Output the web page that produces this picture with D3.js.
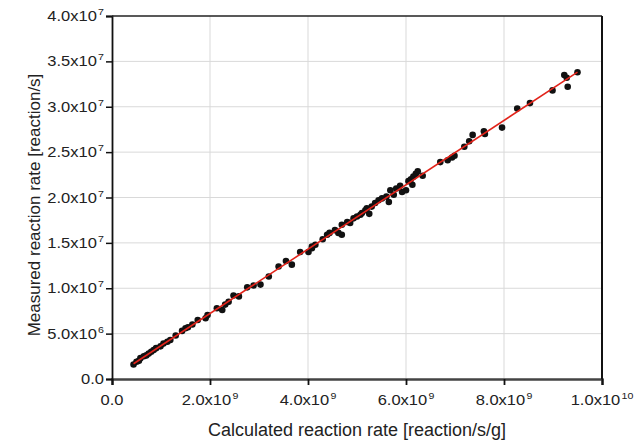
<!DOCTYPE html>
<html>
<head>
<meta charset="utf-8">
<script src="https://cdn.jsdelivr.net/npm/d3@7"></script>
<style>
  body { margin: 0; background: #fff; }
  svg { font-family: "Liberation Sans", Arial, sans-serif; }
  .grid line { stroke: #d9d9d9; stroke-width: 1; }
  .lbl { fill: #222; }
  .axis-title { fill: #222; }
</style>
</head>
<body>
<div id="chart"></div>
<script>
// Calculated rate (x 1e9 reaction/s/g) and measured rate (x 1e6 reaction/s)
const calcRate = [
  0.44, 0.50, 0.55, 0.58, 0.65, 0.70, 0.75, 0.80, 0.85, 0.90, 0.99, 1.05, 1.13, 1.19,
  1.30, 1.43, 1.50, 1.55, 1.64, 1.75, 1.91, 1.95, 2.14, 2.25, 2.31, 2.38, 2.48, 2.59,
  2.76, 2.89, 3.03, 3.20, 3.40, 3.55, 3.67, 3.84, 4.01, 4.08, 4.08, 4.15, 4.30, 4.39,
  4.44, 4.55, 4.62, 4.69, 4.69, 4.80, 4.86, 4.93, 5.00, 5.07, 5.10, 5.17, 5.20, 5.25,
  5.30, 5.37, 5.44, 5.51, 5.60, 5.65, 5.68, 5.75, 5.80, 5.88, 5.92, 6.00, 6.05, 6.10,
  6.13, 6.15, 6.20, 6.24, 6.34, 6.70, 6.85, 6.94, 6.99, 7.19, 7.29, 7.36, 7.59, 7.61,
  7.96, 8.27, 8.53, 8.99, 9.23, 9.28, 9.30, 9.50
];
const measRate = [
  1.6, 1.9, 2.0, 2.3, 2.5, 2.6, 2.8, 3.0, 3.2, 3.4, 3.6, 3.9, 4.1, 4.3,
  4.8, 5.3, 5.6, 5.7, 6.0, 6.5, 6.7, 7.05, 7.8, 7.6, 8.2, 8.5, 9.2, 9.1,
  10.1, 10.3, 10.4, 11.3, 12.4, 13.0, 12.6, 14.0, 14.0, 14.4, 14.6, 14.8, 15.4, 15.9,
  16.1, 16.4, 16.1, 17.0, 15.9, 17.3, 17.2, 17.7, 17.9, 18.1, 18.3, 18.6, 18.8, 18.2,
  19.0, 19.4, 19.7, 19.9, 20.1, 19.5, 20.8, 20.3, 21.0, 21.3, 20.6, 20.8, 21.8, 22.0,
  21.4, 22.3, 22.6, 22.9, 22.4, 23.9, 24.1, 24.4, 24.6, 25.6, 26.2, 26.9, 27.3, 27.0,
  27.7, 29.8, 30.4, 31.8, 33.5, 33.2, 32.2, 33.8
];
const xTicks = [0, 2e9, 4e9, 6e9, 8e9, 1e10];
const yTicks = [0, 5e6, 1e7, 1.5e7, 2e7, 2.5e7, 3e7, 3.5e7, 4e7];

const points = calcRate.map((c, i) => ({ x: c * 1e9, y: measRate[i] * 1e6 }));

const width = 641, height = 442;
const margin = { top: 16, right: 39, bottom: 63, left: 112 };
const innerWidth = width - margin.left - margin.right;
const innerHeight = height - margin.top - margin.bottom;
const labelSize = 14, supSize = 9, stretch = 1.18;

const xScale = d3.scaleLinear().domain([0, 1e10]).range([0, innerWidth]);
const yScale = d3.scaleLinear().domain([0, 4e7]).range([innerHeight, 0]);

const svg = d3.select("#chart").append("svg")
  .attr("width", width)
  .attr("height", height);

const g = svg.append("g")
  .attr("transform", `translate(${margin.left},${margin.top})`);

// GRID
g.append("g").attr("class", "grid")
  .selectAll("line.v")
  .data(xTicks.slice(1, -1))
  .join("line")
    .attr("x1", d => xScale(d)).attr("x2", d => xScale(d))
    .attr("y1", 0).attr("y2", innerHeight);

g.append("g").attr("class", "grid")
  .selectAll("line.h")
  .data(yTicks.slice(1, -1))
  .join("line")
    .attr("x1", 0).attr("x2", innerWidth)
    .attr("y1", d => yScale(d)).attr("y2", d => yScale(d));

// AXES (ticks only, labels drawn separately for the superscripts)
const xAxis = g.append("g")
  .attr("transform", `translate(0,${innerHeight})`)
  .call(d3.axisBottom(xScale).tickValues(xTicks).tickSize(6).tickFormat(""));
xAxis.select(".domain").attr("stroke", "#444").attr("stroke-width", 2.5);
xAxis.selectAll(".tick line").attr("stroke", "#111").attr("stroke-width", 1.8);

const yAxis = g.append("g")
  .call(d3.axisLeft(yScale).tickValues(yTicks).tickSize(6).tickFormat(""));
yAxis.select(".domain").attr("stroke", "#111").attr("stroke-width", 1.8);
yAxis.selectAll(".tick line").attr("stroke", "#111").attr("stroke-width", 1.5);

// "2.0x10" + small exponent, as two text elements in a slightly widened group
function splitLabel(d) {
  if (d === 0) return { base: "0.0", exp: "" };
  const exp = Math.floor(Math.log10(d));
  return { base: (d / Math.pow(10, exp)).toFixed(1) + "x10", exp: String(exp) };
}

function drawLabel(parent, d, x, y, anchor) {
  const p = splitLabel(d);
  const lg = parent.append("g");
  const base = lg.append("text").attr("class", "lbl")
    .attr("font-size", labelSize).attr("y", 0).text(p.base);
  const wb = base.node().getComputedTextLength();
  let ws = 0;
  if (p.exp) {
    const sup = lg.append("text").attr("class", "lbl")
      .attr("font-size", supSize).attr("x", wb + 1).attr("y", -6).text(p.exp);
    ws = sup.node().getComputedTextLength() + 1;
  }
  const total = (wb + ws) * stretch;
  const x0 = anchor === "end" ? x - total : x - total / 2;
  lg.attr("transform", `translate(${x0},${y}) scale(${stretch},1)`);
}

const xLabels = g.append("g");
xTicks.forEach(d => drawLabel(xLabels, d, xScale(d), innerHeight + 26, "middle"));

const yLabels = g.append("g");
yTicks.forEach(d => drawLabel(yLabels, d, -8, yScale(d) + 5, "end"));

// top and right frame
g.append("line")
  .attr("x1", 0).attr("x2", innerWidth).attr("y1", 0).attr("y2", 0)
  .attr("stroke", "#222").attr("stroke-width", 1.5);
g.append("line")
  .attr("x1", innerWidth).attr("x2", innerWidth).attr("y1", 0).attr("y2", innerHeight)
  .attr("stroke", "#111").attr("stroke-width", 2);

// POINTS
g.selectAll("circle.pt")
  .data(points)
  .join("circle")
    .attr("class", "pt")
    .attr("cx", d => xScale(d.x))
    .attr("cy", d => yScale(d.y))
    .attr("r", 3.3)
    .attr("fill", "#111");

// Linear fit through the data
const mx = d3.mean(points, d => d.x), my = d3.mean(points, d => d.y);
const slope = d3.sum(points, d => (d.x - mx) * (d.y - my)) / d3.sum(points, d => (d.x - mx) ** 2);
const intercept = my - slope * mx;
const xExt = d3.extent(points, d => d.x);
g.append("path")
  .datum(xExt.map(x => ({ x, y: intercept + slope * x })))
  .attr("fill", "none")
  .attr("stroke", "#e2231a")
  .attr("stroke-width", 1.6)
  .attr("d", d3.line().x(d => xScale(d.x)).y(d => yScale(d.y)));

// TITLES
svg.append("text")
  .attr("class", "axis-title")
  .attr("x", 357)
  .attr("y", 436)
  .attr("text-anchor", "middle")
  .style("font-size", "18px")
  .text("Calculated reaction rate [reaction/s/g]");

svg.append("text")
  .attr("class", "axis-title")
  .attr("transform", `translate(40,205) rotate(-90)`)
  .attr("text-anchor", "middle")
  .style("font-size", "17px")
  .text("Measured reaction rate [reaction/s]");
</script>
</body>
</html>
